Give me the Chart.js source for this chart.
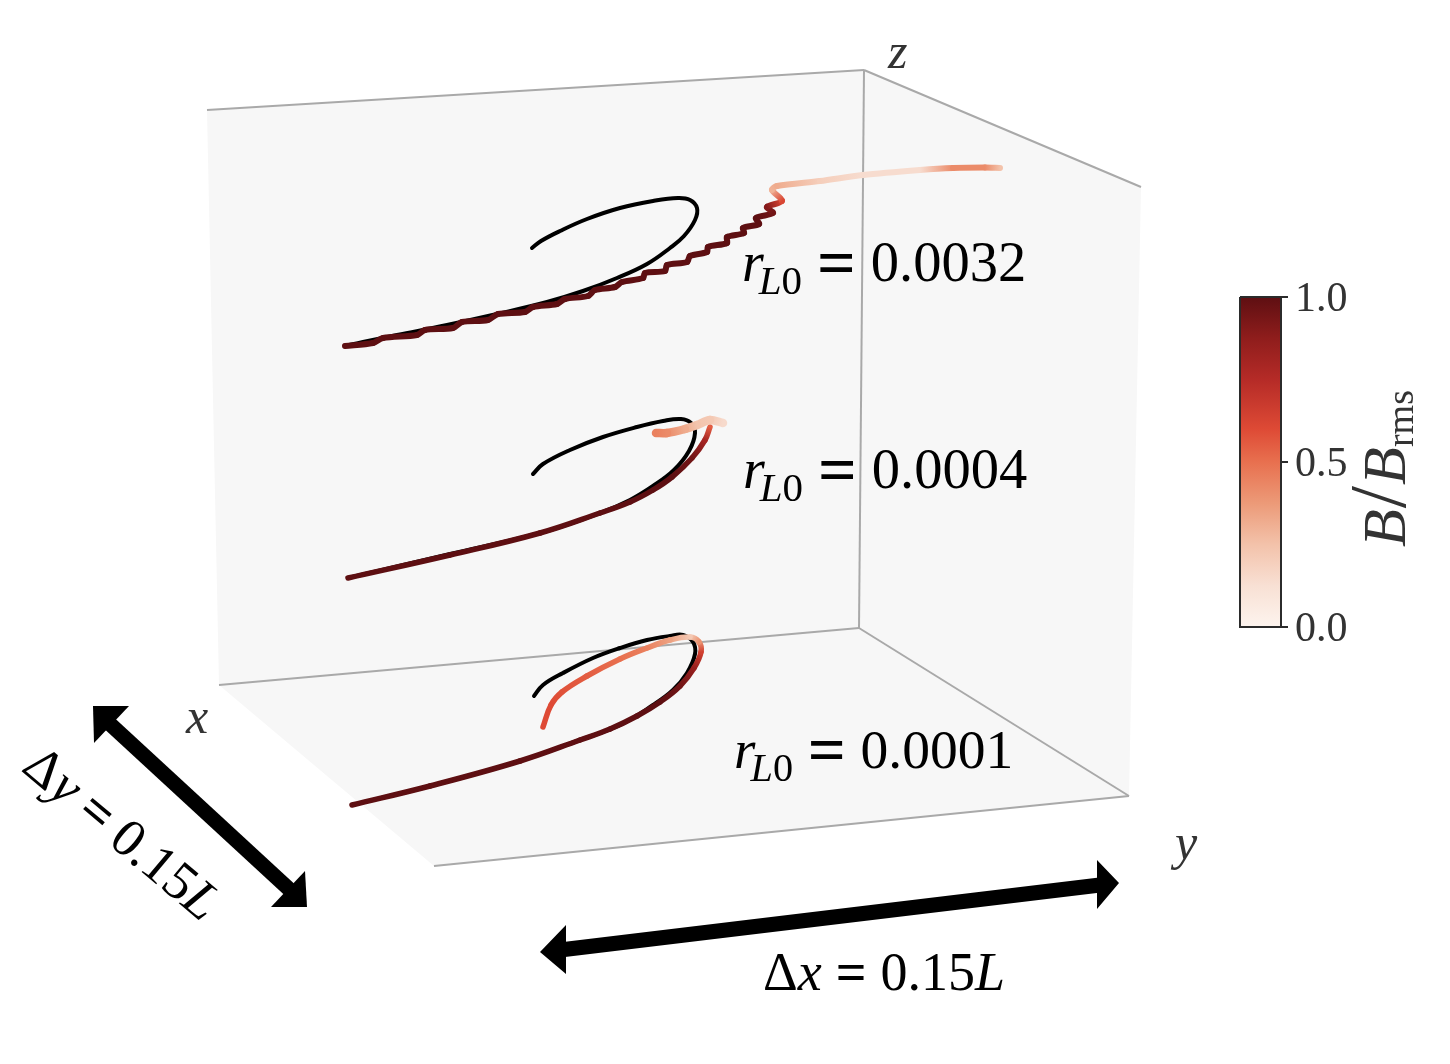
<!DOCTYPE html>
<html>
<head>
<meta charset="utf-8">
<style>
  html, body { margin: 0; padding: 0; background: #fff; }
  canvas { display: block; filter: blur(0.45px); }
</style>
<script src="https://cdn.jsdelivr.net/npm/chart.js@4"></script>
</head>
<body>
<canvas id="grafico" width="1450" height="1064"></canvas>
<script>
// picture space: 0..1450 across, 0..1064 down
var wallLeftX = [207, 864, 859, 219, 207];
var wallLeftY = [110, 70, 628, 685, 110];
var wallRightX = [864, 1141, 1129, 859, 864];
var wallRightY = [70, 187, 796, 628, 70];
var floorX = [219, 859, 1129, 434, 219];
var floorY = [685, 628, 796, 866, 685];

// top particle, rL0 = 0.0032
var blackTopX = [532, 541, 560, 587, 620, 653, 678, 690, 697, 695, 684, 670, 647, 617, 583, 547, 497, 447, 397, 363, 345];
var blackTopY = [248, 241, 231, 219, 208, 201, 198, 200, 208, 220, 236, 248, 264, 278, 291, 302, 314, 325, 335, 342, 346];
var trailTopX = [345, 373, 383, 417, 425, 453, 462, 488, 498, 525, 533, 557, 565, 588, 595, 615, 622, 643, 645, 665, 667, 687, 690, 707, 708, 727, 727, 744, 743, 759, 756, 773, 767, 782, 772, 777, 820, 863, 920, 953, 985, 1000];
var trailTopY = [346, 343, 338, 335, 330, 328, 322, 320, 314, 312, 307, 304, 299, 296, 290, 287, 282, 278, 273, 271, 265, 262, 256, 252, 247, 243, 237, 233, 228, 224, 218, 213, 207, 201, 190, 186, 181, 175, 170, 168, 167.5, 168];
var trailTopB = [1, 1, 1, 1, 1, 1, 1, 1, 1, 1, 1, 1, 1, 1, 1, 1, 1, 1, 1, 1, 1, 1, 1, 1, 1, 1, 1, 1, 1, 1, 1, 0.95, 0.9, 0.62, 0.3, 0.32, 0.2, 0.14, 0.14, 0.42, 0.42, 0.25];

// middle particle, rL0 = 0.0004
var blackMidX = [533, 543, 570, 603, 637, 663, 681, 691, 695, 689, 674, 653, 630, 600, 540, 450, 348];
var blackMidY = [474, 464, 450, 437, 427, 421, 419, 423, 433, 451, 470, 486, 500, 513, 533, 554, 578];
var trailMidX = [348, 450, 540, 600, 630, 653, 672, 692, 705, 710];
var trailMidY = [578, 555, 533, 513, 502, 490, 477, 458, 440, 427];
var trailMidB = [1, 1, 1, 1, 1, 1, 1, 0.95, 0.8, 0.55];
var blobMidX = [723, 710, 697, 685, 667, 656];
var blobMidY = [423, 420, 425, 429, 433, 433];
var blobMidB = [0.15, 0.22, 0.24, 0.32, 0.42, 0.45];

// bottom particle, rL0 = 0.0001
var blackLowX = [534, 543, 563, 593, 620, 647, 670, 683, 693, 695, 687, 673, 653, 620, 580, 520, 430, 352];
var blackLowY = [696, 685, 673, 658, 648, 640, 636, 635, 642, 654, 673, 690, 705, 725, 740, 761, 786, 805];
var trailLowX = [352, 430, 520, 580, 610, 637, 660, 680, 694, 701, 699, 690, 670, 647, 620, 587, 562, 551, 543];
var trailLowY = [805, 786, 761, 740, 729, 716, 702, 686, 668, 652, 642, 637, 640, 648, 659, 676, 692, 705, 727];
var trailLowB = [1, 1, 1, 1, 1, 1, 1, 0.95, 0.85, 0.65, 0.4, 0.22, 0.35, 0.45, 0.5, 0.55, 0.58, 0.6, 0.6];

// colorbar
var barTicks = [0, 0.5, 1];
var barTickLabels = ["0.0", "0.5", "1.0"];
var mapaRojos = [
  [0, 253, 244, 238],
  [0.125, 248, 224, 212],
  [0.25, 243, 194, 170],
  [0.375, 236, 154, 120],
  [0.5, 232, 112, 79],
  [0.6, 222, 74, 53],
  [0.75, 181, 43, 39],
  [0.875, 143, 29, 28],
  [1, 94, 15, 18],
];

function colorB(b) {
  for (var i = 1; i < mapaRojos.length; i++) {
    if (b <= mapaRojos[i][0]) {
      var a = mapaRojos[i - 1];
      var c = mapaRojos[i];
      var t = (b - a[0]) / (c[0] - a[0]);
      return "rgb(" + Math.round(a[1] + (c[1] - a[1]) * t) + "," + Math.round(a[2] + (c[2] - a[2]) * t) + "," + Math.round(a[3] + (c[3] - a[3]) * t) + ")";
    }
  }
  return "rgb(94,15,18)";
}

function puntos(xs, ys) {
  return xs.map(function (x, i) {
    return { x: x, y: ys[i] };
  });
}

function plano(xs, ys, color) {
  return { data: puntos(xs, ys), fill: "shape", backgroundColor: color, borderWidth: 0, borderColor: "transparent" };
}

function arista(xs, ys) {
  return { data: puntos(xs, ys), borderColor: "#a9a9a9", borderWidth: 2 };
}

function negra(xs, ys) {
  return { data: puntos(xs, ys), borderColor: "#000", borderWidth: 4, tension: 0.4, borderCapStyle: "round", borderJoinStyle: "round" };
}

// each piece of the trail fades from the B of one point to the B of the next
function trayectoria(xs, ys, bs, ancho, tension) {
  return {
    data: puntos(xs, ys),
    borderWidth: ancho,
    tension: tension,
    borderCapStyle: "round",
    borderJoinStyle: "round",
    segment: {
      borderColor: function (ctx) {
        var sx = ctx.chart.scales.x;
        var sy = ctx.chart.scales.y;
        var i = ctx.p0DataIndex;
        var j = ctx.p1DataIndex;
        var x0 = sx.getPixelForValue(xs[i]);
        var y0 = sy.getPixelForValue(ys[i]);
        var x1 = sx.getPixelForValue(xs[j]);
        var y1 = sy.getPixelForValue(ys[j]);
        if (!isFinite(x0 + y0 + x1 + y1)) {
          return colorB(bs[i]);
        }
        var g = ctx.chart.ctx.createLinearGradient(x0, y0, x1, y1);
        g.addColorStop(0, colorB(bs[i]));
        g.addColorStop(1, colorB(bs[j]));
        return g;
      },
    },
  };
}

function flecha(xs, ys, ancho) {
  return { data: puntos(xs, ys), borderColor: "#000", borderWidth: ancho };
}

function punta(xs, ys) {
  return { data: puntos(xs, ys), fill: "shape", backgroundColor: "#000", borderWidth: 0 };
}

function relleno(ctx) {
  var s = ctx.chart.scales.y;
  var abajo = s ? s.getPixelForValue(627) : NaN;
  var arriba = s ? s.getPixelForValue(297) : NaN;
  if (!isFinite(abajo + arriba)) {
    return "#e8704f";
  }
  var g = ctx.chart.ctx.createLinearGradient(0, abajo, 0, arriba);
  mapaRojos.forEach(function (p) {
    g.addColorStop(p[0], colorB(p[0]));
  });
  return g;
}

// painted in this order, first one at the back
var capas = [
  plano(wallLeftX, wallLeftY, "#f7f7f7"),
  plano(wallRightX, wallRightY, "#f7f7f7"),
  plano(floorX, floorY, "#f7f7f7"),
  arista([207, 864], [110, 70]),
  arista([864, 859], [70, 628]),
  arista([864, 1141], [70, 187]),
  arista([219, 859], [685, 628]),
  arista([859, 1129], [628, 796]),
  arista([434, 1129], [866, 796]),
  negra(blackTopX, blackTopY),
  trayectoria(trailTopX, trailTopY, trailTopB, 6, 0.3),
  negra(blackMidX, blackMidY),
  trayectoria(trailMidX, trailMidY, trailMidB, 5.5, 0.4),
  trayectoria(blobMidX, blobMidY, blobMidB, 8.5, 0.3),
  negra(blackLowX, blackLowY),
  trayectoria(trailLowX, trailLowY, trailLowB, 5.5, 0.4),
  flecha([110, 290], [724, 890], 15),
  punta([93, 129, 94, 93], [706, 706, 743, 706]),
  punta([307, 271, 305, 307], [907, 907, 871, 907]),
  flecha([560, 1100], [950, 885], 15),
  punta([540, 566, 566, 540], [952, 925, 974, 952]),
  punta([1119, 1097, 1097, 1119], [883, 860, 909, 883]),
  plano([1240, 1281, 1281, 1240, 1240], [297, 297, 627, 627, 297], relleno),
  { data: puntos([1240, 1281, 1281, 1240, 1240], [297, 297, 627, 627, 297]), borderColor: "#2b2b2b", borderWidth: 2 },
];
barTicks.forEach(function (v) {
  var py = 627 - v * 330;
  capas.push({ data: puntos([1281, 1288], [py, py]), borderColor: "#2b2b2b", borderWidth: 2 });
});

var SERIF = '"Liberation Serif"';

function tramos(ctx, x, y, giro, partes) {
  ctx.save();
  ctx.translate(x, y);
  ctx.rotate((giro * Math.PI) / 180);
  var cursor = 0;
  partes.forEach(function (p) {
    ctx.font = (p.b ? "bold " : "") + (p.i ? "italic " : "") + p.s + "px " + SERIF;
    ctx.fillText(p.t, cursor, p.d || 0);
    cursor += ctx.measureText(p.t).width + (p.g || 0);
  });
  ctx.restore();
}

function etiquetaR(ctx, x, y, valor, s) {
  var k = s / 56;
  tramos(ctx, x, y, 0, [
    { t: "r", i: true, s: s, g: -5 * k },
    { t: "L", i: true, s: 41 * k, d: 13 * k },
    { t: "0", s: 41 * k, d: 13 * k, g: 15 * k },
    { t: "=", b: true, s: 68 * k, d: 4 * k, g: 15 * k },
    { t: valor, s: s * 1.01 },
  ]);
}

var textos = {
  id: "textos",
  afterDatasetsDraw: function (chart) {
    var ctx = chart.ctx;
    ctx.save();
    ctx.fillStyle = "#000";
    ctx.textBaseline = "alphabetic";
    etiquetaR(ctx, 742, 281, "0.0032", 56);
    etiquetaR(ctx, 743, 488, "0.0004", 56);
    etiquetaR(ctx, 734, 768, "0.0001", 55);
    tramos(ctx, 763, 990, 0, [
      { t: "Δ", s: 54 },
      { t: "x", i: true, s: 54, g: 14 },
      { t: "=", b: true, s: 54, g: 14 },
      { t: "0.15", s: 54 },
      { t: "L", i: true, s: 54 },
    ]);
    tramos(ctx, 20, 770, 40, [
      { t: "Δ", s: 54 },
      { t: "y", i: true, s: 54, g: 12 },
      { t: "=", b: true, s: 54, g: 12 },
      { t: "0.15", s: 54 },
      { t: "L", i: true, s: 54 },
    ]);
    ctx.fillStyle = "#333";
    tramos(ctx, 888, 68, 0, [{ t: "z", i: true, s: 50 }]);
    tramos(ctx, 186, 733, 0, [{ t: "x", i: true, s: 50 }]);
    tramos(ctx, 1175, 859, 0, [{ t: "y", i: true, s: 50 }]);
    barTicks.forEach(function (v, i) {
      tramos(ctx, 1295, 627 - v * 330 + 14, 0, [{ t: barTickLabels[i], s: 42 }]);
    });
    tramos(ctx, 1405, 547, -90, [
      { t: "B", i: true, s: 62, g: 1 },
      { t: "/", s: 80, g: 1 },
      { t: "B", i: true, s: 62, g: 0 },
      { t: "rms", s: 38, d: 8 },
    ]);
    ctx.restore();
  },
};

new Chart(document.getElementById("grafico"), {
  type: "line",
  data: { datasets: capas.slice().reverse() },
  options: {
    responsive: false,
    animation: false,
    parsing: { xAxisKey: "x", yAxisKey: "y" },
    layout: { padding: 0 },
    elements: { point: { radius: 0 } },
    plugins: { legend: { display: false }, tooltip: { enabled: false } },
    events: [],
    scales: {
      x: { type: "linear", min: 0, max: 1450, display: false },
      y: { type: "linear", min: 0, max: 1064, reverse: true, display: false },
    },
  },
  plugins: [textos],
});
</script>
</body>
</html>
